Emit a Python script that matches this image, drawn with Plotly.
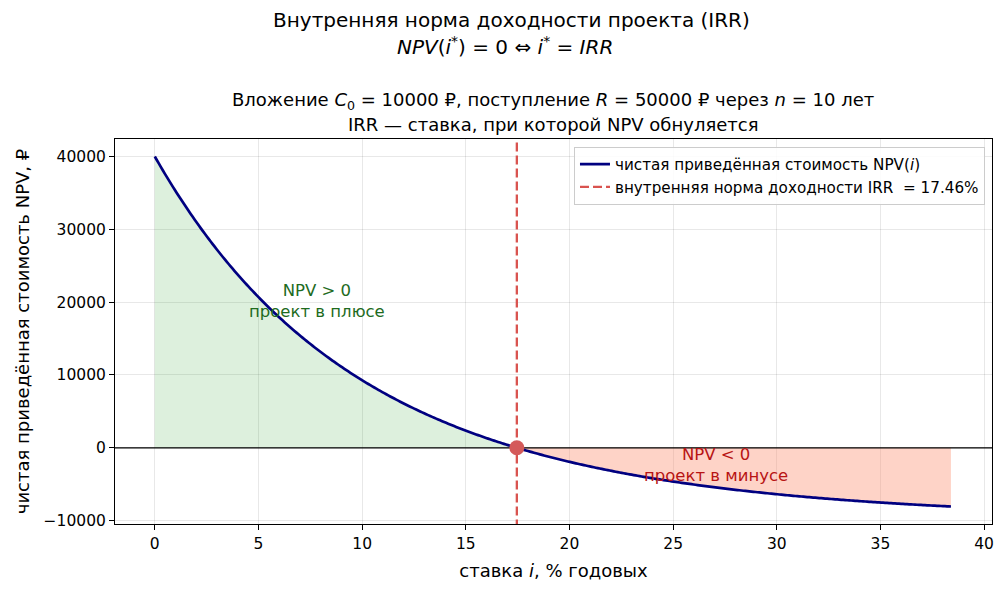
import numpy as np
import plotly.graph_objects as go

# Parameters shown in the chart
C0 = 10000.0      # initial investment, ₽
R = 50000.0       # receipt, ₽
n = 10            # years
rate_max = 38.4   # % per year, right end of curve
n_points = 400

irr = ((R / C0) ** (1.0 / n) - 1.0) * 100.0
rates = np.linspace(0.0, rate_max, n_points)
npv = R / (1.0 + rates / 100.0) ** n - C0

x_ticks = [0, 5, 10, 15, 20, 25, 30, 35, 40]
y_ticks = [-10000, 0, 10000, 20000, 30000, 40000]

pos_mask = rates <= irr
neg_mask = rates >= irr
r_pos = np.append(rates[pos_mask], irr)
v_pos = np.append(npv[pos_mask], 0.0)
r_neg = np.insert(rates[neg_mask], 0, irr)
v_neg = np.insert(npv[neg_mask], 0, 0.0)

FONT = "DejaVu Sans"
fig = go.Figure()

# green fill (NPV > 0)
fig.add_trace(go.Scatter(x=r_pos, y=np.zeros_like(r_pos), mode="lines",
                         line=dict(width=0), showlegend=False, hoverinfo="skip"))
fig.add_trace(go.Scatter(x=r_pos, y=v_pos, mode="lines", line=dict(width=0),
                         fill="tonexty", fillcolor="rgba(44,160,44,0.16)",
                         showlegend=False, hoverinfo="skip"))
# red fill (NPV < 0)
fig.add_trace(go.Scatter(x=r_neg, y=np.zeros_like(r_neg), mode="lines",
                         line=dict(width=0), showlegend=False, hoverinfo="skip"))
fig.add_trace(go.Scatter(x=r_neg, y=v_neg, mode="lines", line=dict(width=0),
                         fill="tonexty", fillcolor="rgba(252,146,114,0.40)",
                         showlegend=False, hoverinfo="skip"))

# zero line
fig.add_trace(go.Scatter(x=[-5, 45], y=[0, 0], mode="lines",
                         line=dict(color="black", width=1.2),
                         showlegend=False, hoverinfo="skip"))

# NPV curve
fig.add_trace(go.Scatter(x=rates, y=npv, mode="lines",
                         line=dict(color="#000080", width=2.7, simplify=False),
                         name="чистая приведённая стоимость NPV(<i>i</i>)"))

# IRR line
fig.add_trace(go.Scatter(x=[irr, irr], y=[-20000, 60000], mode="lines",
                         line=dict(color="#d9534f", width=2.3, dash="9px,4px"),
                         name="внутренняя норма доходности IRR  = %.2f%%" % irr))

# IRR point
fig.add_trace(go.Scatter(x=[irr], y=[0], mode="markers",
                         marker=dict(color="#d45a5a", size=15),
                         showlegend=False, hoverinfo="skip"))

titles = [
    dict(text="Внутренняя норма доходности проекта (IRR)", cx=511, cy=20, fs=20),
    dict(text="<i>NPV</i>(<i>i</i><sup>*</sup>) = 0 ⇔ <i>i</i><sup>*</sup> = <i>IRR</i>",
         cx=505, cy=46, fs=20),
    dict(text="Вложение <i>C</i><sub>0</sub> = 10000 ₽, поступление <i>R</i> = 50000 ₽ через <i>n</i> = 10 лет",
         cx=553, cy=101, fs=18),
    dict(text="IRR — ставка, при которой NPV обнуляется", cx=553, cy=124, fs=18),
]
plot_l, plot_r = 115.0, 992.0
plot_top, plot_bot = 139.0, 524.0
ann_list = []
for a in titles:
    ypaper = (plot_bot - a["cy"]) / (plot_bot - plot_top)
    xpaper = (a["cx"] - plot_l) / (plot_r - plot_l)
    ann_list.append(dict(text=a["text"], xref="paper", yref="paper",
                         x=xpaper, y=ypaper, xanchor="center", yanchor="middle",
                         showarrow=False,
                         font=dict(family=FONT, size=a["fs"], color="black")))

ann_list.append(dict(text="NPV > 0<br>проект в плюсе", x=7.83, y=20200,
                     xref="x", yref="y", showarrow=False,
                     font=dict(family=FONT, size=16.5, color="#1e6b1e")))
ann_list.append(dict(text="NPV < 0<br>проект в минусе", x=27.07, y=-2350,
                     xref="x", yref="y", showarrow=False,
                     font=dict(family=FONT, size=16.5, color="#b81414")))

fig.update_layout(
    width=1007, height=593,
    margin=dict(l=115, r=15, t=139, b=69),
    paper_bgcolor="white", plot_bgcolor="white",
    font=dict(family=FONT, size=15.5, color="black"),
    annotations=ann_list,
    legend=dict(x=0.992, y=0.98, xanchor="right", yanchor="top",
                traceorder="normal",
                bgcolor="rgba(255,255,255,0.85)", bordercolor="#cccccc",
                borderwidth=1, font=dict(family=FONT, size=15.2),
                tracegroupgap=2),
    xaxis=dict(range=[-1.92, 40.38], tickvals=x_ticks,
               showgrid=True, gridcolor="rgba(0,0,0,0.09)", gridwidth=1,
               zeroline=False, showline=True, linecolor="black", linewidth=1,
               mirror=True, ticks="outside", ticklen=5, tickcolor="black",
               title=dict(text="ставка <i>i</i>, % годовых",
                          font=dict(family=FONT, size=18), standoff=12)),
    yaxis=dict(range=[-10462, 42403], tickvals=y_ticks,
               tickformat="d",
               showgrid=True, gridcolor="rgba(0,0,0,0.09)", gridwidth=1,
               zeroline=False, showline=True, linecolor="black", linewidth=1,
               mirror=True, ticks="outside", ticklen=5, tickcolor="black",
               title=dict(text="чистая приведённая стоимость NPV, ₽",
                          font=dict(family=FONT, size=18), standoff=9)),
)

fig.write_html("out.html")
